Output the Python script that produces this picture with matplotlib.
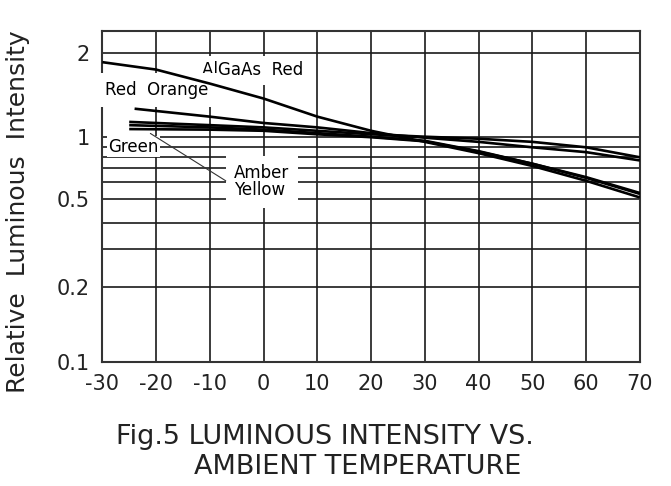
import numpy as np
import matplotlib
matplotlib.use("Agg")
import matplotlib.pyplot as plt
from matplotlib.ticker import NullFormatter

# temperatures (deg C) and relative intensity read for each curve
temps_algaas = [-30, -20, -10, 0, 10, 20, 30, 40, 50, 60, 70]
algaas_red = [1.85, 1.74, 1.55, 1.37, 1.18, 1.05, 0.95, 0.84, 0.72, 0.61, 0.51]

temps_red_orange = [-24, -10, 0, 10, 20, 30, 40, 50, 60, 70]
red_orange = [1.26, 1.18, 1.12, 1.08, 1.03, 0.99, 0.95, 0.90, 0.85, 0.77]

temps_short = [-25, -10, 0, 10, 20, 30, 40, 50, 60, 70]
green = [1.13, 1.10, 1.08, 1.05, 1.02, 1.00, 0.98, 0.95, 0.90, 0.80]
amber = [1.10, 1.08, 1.06, 1.03, 1.00, 0.96, 0.86, 0.74, 0.63, 0.53]
yellow = [1.065, 1.06, 1.05, 1.02, 0.995, 0.955, 0.855, 0.74, 0.635, 0.535]

x_ticks = [-30, -20, -10, 0, 10, 20, 30, 40, 50, 60, 70]
y_ticks = [0.1, 0.2, 0.5, 1, 2]
y_tick_labels = ["0.1", "0.2", "0.5", "1", "2"]
y_minor = [0.3, 0.4, 0.6, 0.7, 0.8, 0.9]

# the printed log paper is not a true log scale: spacing of each gridline (px above 0.1)
paper_vals = np.array([0.001, 0.1, 0.2, 0.3, 0.4, 0.5, 0.6, 0.7, 0.8, 0.9, 1.0, 2.0, 2.4, 100.0])
paper_h = np.array([-498, 0, 75.0, 112.4, 138.4, 162.4, 179.4, 193.4, 204.4, 214.4, 225.0, 309.0, 331.0, 783.0])
paper_log = np.log10(paper_vals)


def fwd(v):
    v = np.clip(np.asarray(v, dtype=float), 1e-6, None)
    return np.interp(np.log10(v), paper_log, paper_h)


def inv(h):
    return 10 ** np.interp(h, paper_h, paper_log)


fig = plt.figure(figsize=(6.71, 4.86), dpi=100)
ax = fig.add_axes([0.1525, 0.2558, 0.8011, 0.681])
ax.set_yscale("function", functions=(fwd, inv))
ax.set_xlim(-30, 70)
ax.set_ylim(0.1, 2.4)

ax.set_xticks(x_ticks)
ax.set_xticklabels([str(t) for t in x_ticks], fontsize=15, color="#222222")
ax.set_yticks(y_ticks)
ax.set_yticklabels(y_tick_labels, fontsize=15, color="#222222")
ax.set_yticks(y_minor, minor=True)
ax.yaxis.set_minor_formatter(NullFormatter())
ax.tick_params(which="both", length=0)
ax.tick_params(axis="x", pad=9)
ax.tick_params(axis="y", pad=9)

ax.grid(which="major", axis="both", color="#1a1a1a", lw=1.2, zorder=0)
ax.grid(which="minor", axis="y", color="#1a1a1a", lw=1.2, zorder=0)
ax.set_axisbelow(True)
for s in ax.spines.values():
    s.set_linewidth(1.5)
    s.set_color("#333333")

curve_kw = dict(color="black", lw=1.9, zorder=4, solid_capstyle="butt")
ax.plot(temps_algaas, algaas_red, **curve_kw)
ax.plot(temps_red_orange, red_orange, **curve_kw)
ax.plot(temps_short, green, **curve_kw)
ax.plot(temps_short, amber, **curve_kw)
ax.plot(temps_short, yellow, **curve_kw)

box = dict(facecolor="white", edgecolor="none", pad=4)
ax.text(-11.4, 1.73, "AlGaAs  Red", fontsize=12, ha="left", va="center",
        bbox=box, zorder=3)
ax.text(-29.5, 1.47, "Red  Orange", fontsize=12, ha="left", va="center",
        bbox=dict(facecolor="white", edgecolor="none", pad=6), zorder=3)
ax.text(-28.9, 0.905, "Green", fontsize=12, ha="left", va="center",
        bbox=dict(facecolor="white", edgecolor="none", pad=1), zorder=3)
ax.text(-5.5, 0.605, "Amber\nYellow", fontsize=12, ha="left", va="center",
        linespacing=0.95, bbox=dict(facecolor="white", edgecolor="none", pad=6),
        zorder=3)
ax.annotate("", xy=(-21.5, 1.04), xytext=(-6.6, 0.6),
            arrowprops=dict(arrowstyle="-", color="#333333", lw=0.8), zorder=5)

fig.text(0.027, 0.564, "Relative  Luminous  Intensity", rotation=90,
         fontsize=18, ha="center", va="center", color="#222222")
fig.text(0.484, 0.101, "Fig.5 LUMINOUS INTENSITY VS.",
         fontsize=19.5, ha="center", va="center", color="#222222")
fig.text(0.533, 0.039, "AMBIENT TEMPERATURE",
         fontsize=19.5, ha="center", va="center", color="#222222")

fig.savefig("out.png", dpi=100)
